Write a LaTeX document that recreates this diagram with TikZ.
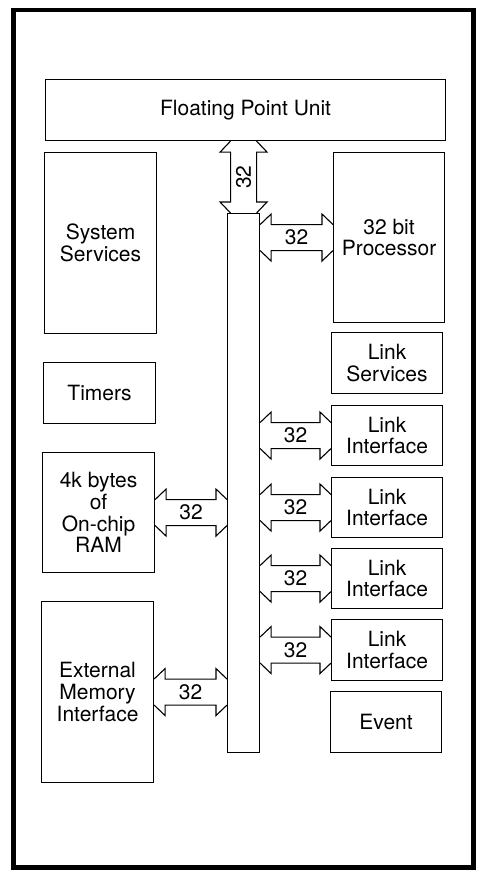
\documentclass[tikz,border=0pt]{standalone}
\usepackage{fontspec}
\setmainfont{TeX Gyre Heros}
\usetikzlibrary{calc}
\newcommand{\unitfont}{\fontsize{21}{21.7}\selectfont}

\tikzset{
  unit/.style={draw, line width=1.1pt, inner sep=0pt, anchor=north west, align=center, font=\unitfont},
  busnum/.style={font=\unitfont, inner sep=0pt},
  hlink/.style={line width=1.1pt, to path={
      ($(\tikztostart)+(0,-13)$) -- ++(11,-10.5) -- ++(0,10.5)
      -- ($(\tikztotarget)+(-11,-13)$) \tikztonodes -- ++(0,-10.5) -- ($(\tikztotarget)+(0,-13)$)
      ($(\tikztostart)+(0,13)$) -- ++(11,10.5) -- ++(0,-10.5)
      -- ($(\tikztotarget)+(-11,13)$) -- ++(0,10.5) -- ($(\tikztotarget)+(0,13)$)}},
  vlink/.style={line width=1.1pt, to path={
      ($(\tikztostart)+(-13,0)$) -- ++(-10.5,11) -- ++(10.5,0)
      -- ($(\tikztotarget)+(-13,-11)$) \tikztonodes -- ++(-10.5,0) -- ($(\tikztotarget)+(-13,0)$)
      ($(\tikztostart)+(13,0)$) -- ++(10.5,11) -- ++(-10.5,0)
      -- ($(\tikztotarget)+(13,-11)$) -- ++(10.5,0) -- ($(\tikztotarget)+(13,0)$)}},
}

\begin{document}
\begin{tikzpicture}[x=1pt,y=-1pt]
\useasboundingbox (0,0) rectangle (478,871);
\draw[line width=4.5pt] (13.5,10) rectangle (473.5,867.5);
% units
\node[unit, minimum width=400, minimum height=61] (fpu) at (45,79) {Floating Point Unit};
\node[unit, minimum width=112, minimum height=181] (sys) at (44,152) {System\\Services};
\node[unit, minimum width=111, minimum height=170] (cpu) at (333,152) {32 bit\\Processor};
\node[unit, minimum width=112, minimum height=61] (timers) at (43,362) {Timers};
\node[unit, minimum width=111, minimum height=61] (lsvc) at (331,332) {Link\\Services};
\node[unit, minimum width=111, minimum height=60] (li1) at (331,405) {Link\\Interface};
\node[unit, minimum width=111, minimum height=60] (li2) at (331,477) {Link\\Interface};
\node[unit, minimum width=111, minimum height=60] (li3) at (331,548) {Link\\Interface};
\node[unit, minimum width=111, minimum height=61] (li4) at (331,619) {Link\\Interface};
\node[unit, minimum width=111, minimum height=61] (event) at (330,691) {Event};
\node[unit, minimum width=112, minimum height=120] (ram) at (42,452) {4k bytes\\of\\On-chip\\RAM};
\node[unit, minimum width=112, minimum height=181] (emi) at (41,601) {External\\Memory\\Interface};
\node[unit, minimum width=32, minimum height=539] (bus) at (227,213) {};
% 32 bit paths
\draw[vlink] (fpu.south -| bus) to node[midway, busnum, xshift=13pt, rotate=90] {32} (bus.north);
\draw[hlink] (bus.east |- cpu) to node[midway, busnum, yshift=-13pt] {32} (cpu.west);
\draw[hlink] (bus.east |- li1) to node[midway, busnum, yshift=-13pt] {32} (li1.west);
\draw[hlink] (bus.east |- li2) to node[midway, busnum, yshift=-13pt] {32} (li2.west);
\draw[hlink] (bus.east |- li3) to node[midway, busnum, yshift=-13pt] {32} (li3.west);
\draw[hlink] (bus.east |- li4) to node[midway, busnum, yshift=-13pt] {32} (li4.west);
\draw[hlink] (ram.east) to node[midway, busnum, yshift=-13pt] {32} (bus.west |- ram);
\draw[hlink] (emi.east) to node[midway, busnum, yshift=-13pt] {32} (bus.west |- emi);
\end{tikzpicture}
\end{document}
